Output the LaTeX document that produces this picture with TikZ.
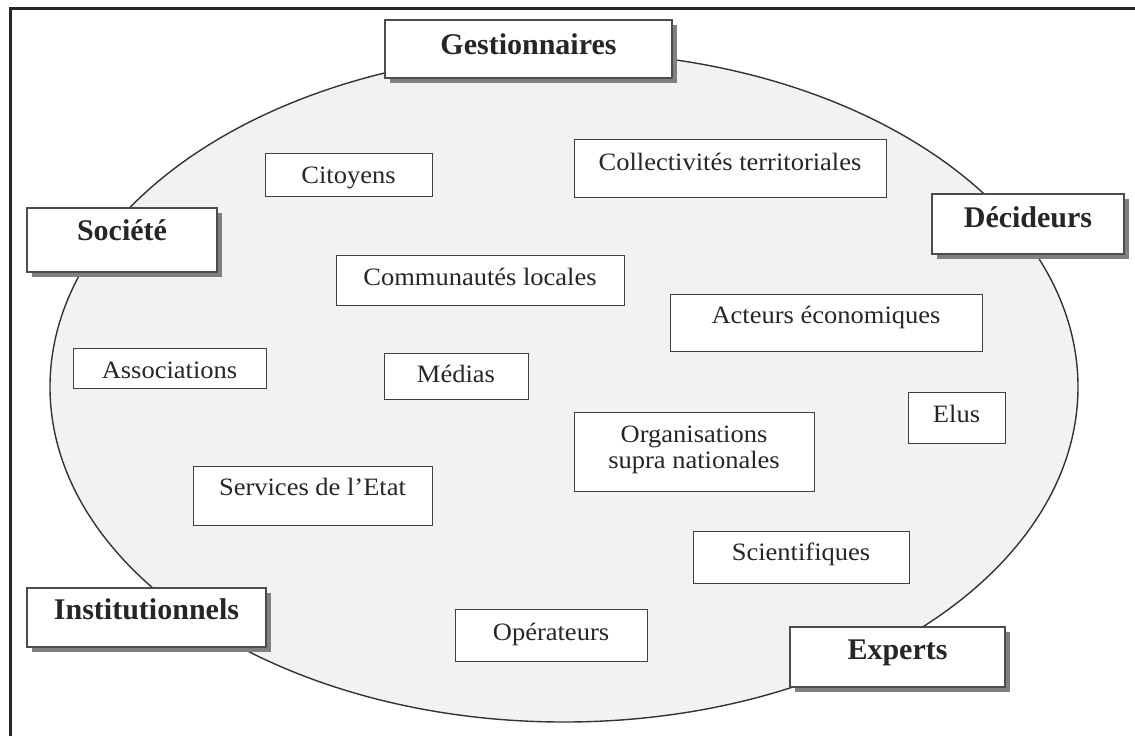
\documentclass[tikz,border=0pt]{standalone}
\usepackage{fontspec}
\setmainfont{Liberation Serif}
\newfontfamily\boxfont[FakeStretch=1.06]{Liberation Serif}
\usetikzlibrary{shadows}
\definecolor{ovalgray}{HTML}{F1F2F4}
\tikzset{
	rolebox/.style={draw=black!70, line width=0.8pt, fill=white, text=black!85, inner sep=0pt,
		font=\bfseries\fontsize{15}{18}\selectfont,
		drop shadow={shadow xshift=2.4pt, shadow yshift=-2.4pt, fill=black!50, opacity=1}},
	actorbox/.style={draw=black!75, line width=0.5pt, fill=white, text=black!85, inner sep=0pt,
		align=center, font=\boxfont\fontsize{12.5}{13}\selectfont}
}

\begin{document}
\begin{tikzpicture}[x=0.5pt, y=-0.5pt]
		%%%%% START %%%%%
		
		\useasboundingbox (0, 0) rectangle (1135, 736);
		
		\draw[line width=1.5pt, color=black!85] (10.5, 736) -- (10.5, 8.5) -- (1135, 8.5);
		
		\draw[line width=0.7pt, color=black!80, fill=ovalgray] (564, 387) ellipse [x radius=257pt, y radius=167.5pt];
		
		\node[actorbox, minimum width=83.5pt, text height=15pt, text depth=6.5pt] (citoyens) at (348.5, 174.5) {Citoyens};
		\node[actorbox, minimum width=156pt, text height=15.5pt, text depth=13.5pt] (collectivites) at (730, 168) {Collectivités territoriales};
		\node[actorbox, minimum width=144pt, text height=15pt, text depth=10pt] (communautes) at (480, 280) {Communautés locales};
		\node[actorbox, minimum width=156pt, text height=14.5pt, text depth=14pt] (acteurs) at (826, 322.5) {Acteurs économiques};
		\node[actorbox, minimum width=96.5pt, text height=15pt, text depth=5pt] (associations) at (169.5, 368) {Associations};
		\node[actorbox, minimum width=72pt, text height=14.5pt, text depth=8.5pt] (medias) at (456, 376) {Médias};
		\node[actorbox, minimum width=48.5pt, text height=15pt, text depth=10.5pt] (elus) at (956.5, 417.5) {Elus};
		\node[actorbox, minimum width=120pt, text height=28pt, text depth=11.5pt] (organisations) at (694, 451.5) {Organisations\\supra nationales};
		\node[actorbox, minimum width=119.5pt, text height=14.5pt, text depth=15pt] (services) at (312.5, 495.5) {Services de l’Etat};
		\node[actorbox, minimum width=108pt, text height=14.5pt, text depth=11.5pt] (scientifiques) at (801, 557) {Scientifiques};
		\node[actorbox, minimum width=96pt, text height=15.5pt, text depth=10.5pt] (operateurs) at (551, 635) {Opérateurs};
		
		\node[rolebox, minimum width=143.5pt, text height=17pt, text depth=12pt] (gestionnaires) at (528.5, 49) {Gestionnaires};
		\node[rolebox, minimum width=95pt, text height=16pt, text depth=16pt] (societe) at (122, 240) {Société};
		\node[rolebox, minimum width=96pt, text height=16.5pt, text depth=13.5pt] (decideurs) at (1028, 224) {Décideurs};
		\node[rolebox, minimum width=119.5pt, text height=15.5pt, text depth=14pt] (institutionnels) at (146.5, 617.5) {Institutionnels};
		\node[rolebox, minimum width=107.5pt, text height=16pt, text depth=14pt] (experts) at (897.5, 657) {Experts};
		
		%%%%% END %%%%%
	\end{tikzpicture}
\end{document}
